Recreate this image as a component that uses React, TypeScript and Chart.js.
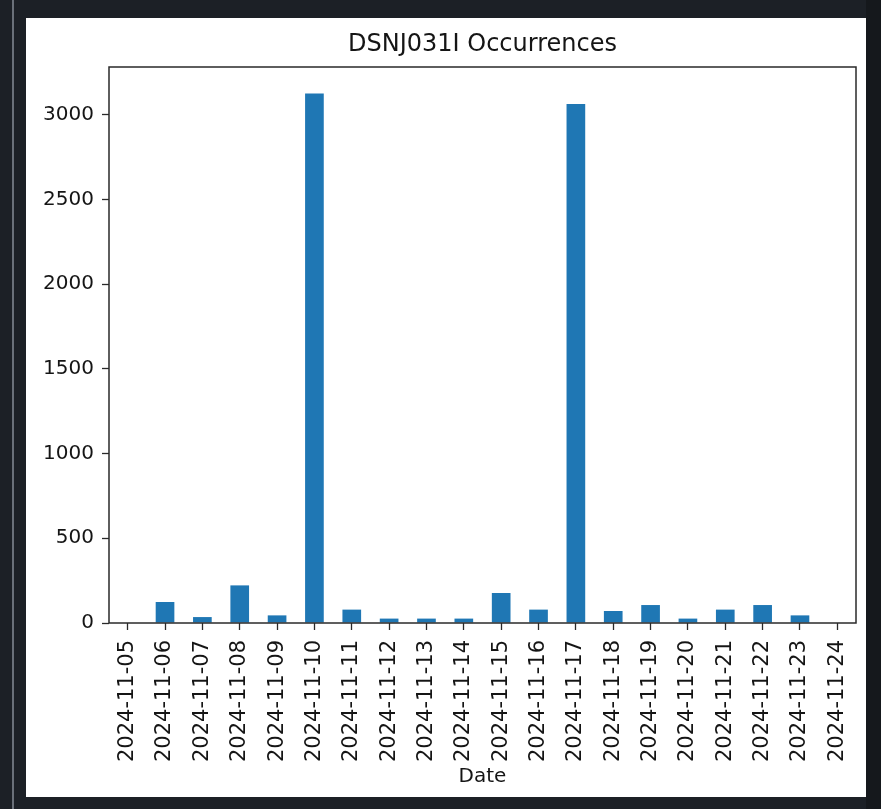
import React, { useEffect, useRef } from "react";
import { Chart, registerables } from "chart.js";

Chart.register(...registerables);

const categories: string[] = [
  "2024-11-05", "2024-11-06", "2024-11-07", "2024-11-08", "2024-11-09",
  "2024-11-10", "2024-11-11", "2024-11-12", "2024-11-13", "2024-11-14",
  "2024-11-15", "2024-11-16", "2024-11-17", "2024-11-18", "2024-11-19",
  "2024-11-20", "2024-11-21", "2024-11-22", "2024-11-23", "2024-11-24",
];

const occurrences: number[] = [
  0, 124, 35, 222, 45,
  3125, 79, 26, 26, 26,
  177, 79, 3063, 71, 106,
  26, 79, 106, 45, 0,
];

const yTicks: number[] = [0, 500, 1000, 1500, 2000, 2500, 3000];

const TITLE = "DSNJ031I Occurrences";
const X_LABEL = "Date";
const BAR_COLOR = "#1f77b4";
const TEXT_COLOR = "#151515";
const FONT = "'DejaVu Sans', sans-serif";

const frameBox = {
  id: "frameBox",
  afterDatasetsDraw(chart: any) {
    const { ctx, chartArea } = chart;
    ctx.save();
    ctx.strokeStyle = "#2a2a2a";
    ctx.lineWidth = 1.5;
    ctx.strokeRect(chartArea.left, chartArea.top, chartArea.right - chartArea.left, chartArea.bottom - chartArea.top);
    ctx.restore();
  },
};

export default function App() {
  const ref = useRef<HTMLCanvasElement | null>(null);

  useEffect(() => {
    if (!ref.current) return;
    const yMax = Math.max(...occurrences) * 1.05;
    const chart = new Chart(ref.current, {
      type: "bar",
      data: {
        labels: categories,
        datasets: [
          {
            data: occurrences,
            backgroundColor: BAR_COLOR,
            borderWidth: 0,
            barPercentage: 0.5,
            categoryPercentage: 1.0,
          },
        ],
      },
      options: {
        animation: false,
        responsive: false,
        devicePixelRatio: 1,
        layout: { padding: { left: 0, right: 10, top: 0, bottom: 0 } },
        plugins: {
          legend: { display: false },
          tooltip: { enabled: false },
          title: {
            display: true,
            text: TITLE,
            fullSize: false,
            color: TEXT_COLOR,
            font: { family: FONT, size: 24, weight: "normal", lineHeight: 1.2 },
            padding: { top: 12.6, bottom: 7.6 },
          },
        },
        scales: {
          x: {
            type: "category",
            offset: true,
            border: { display: false },
            grid: {
              display: true,
              drawOnChartArea: false,
              drawTicks: true,
              tickLength: 7,
              tickWidth: 1.3,
              tickColor: "#2a2a2a",
              offset: false,
            },
            ticks: {
              autoSkip: false,
              maxRotation: 90,
              minRotation: 90,
              padding: 10,
              color: TEXT_COLOR,
              font: { family: FONT, size: 21 },
            },
            title: {
              display: true,
              text: X_LABEL,
              color: TEXT_COLOR,
              font: { family: FONT, size: 20, lineHeight: 1.2 },
              padding: { top: 0, bottom: 8 },
            },
            afterFit: (scale: any) => {
              scale.height = 174;
              scale.paddingLeft = 0;
              scale.paddingRight = 0;
            },
          },
          y: {
            min: 0,
            max: yMax,
            border: { display: false },
            grid: {
              display: true,
              drawOnChartArea: false,
              drawTicks: true,
              tickLength: 7,
              tickWidth: 1.3,
              tickColor: "#2a2a2a",
            },
            ticks: {
              padding: 8,
              color: TEXT_COLOR,
              font: { family: FONT, size: 20 },
              callback: (v: any) => String(v),
            },
            afterBuildTicks: (scale: any) => {
              scale.ticks = yTicks.map((v) => ({ value: v }));
            },
            afterFit: (scale: any) => {
              scale.width = 83;
              scale.paddingTop = 0;
              scale.paddingBottom = 0;
            },
          },
        },
      },
      plugins: [frameBox],
    });
    return () => chart.destroy();
  }, []);

  return (
    <div
      style={{
        position: "fixed",
        left: 0,
        top: 0,
        width: 881,
        height: 809,
        background: "#1c2026",
        overflow: "hidden",
      }}
    >
      <div style={{ position: "absolute", left: 12, top: 0, width: 2, height: 809, background: "#6a7079" }} />
      <div style={{ position: "absolute", left: 866, top: 0, width: 15, height: 809, background: "#15181c" }} />
      <div
        style={{
          position: "absolute",
          left: 26,
          top: 18,
          width: 840,
          height: 779,
          background: "#ffffff",
        }}
      >
        <canvas ref={ref} width={840} height={779} style={{ width: 840, height: 779, display: "block" }} />
      </div>
    </div>
  );
}
